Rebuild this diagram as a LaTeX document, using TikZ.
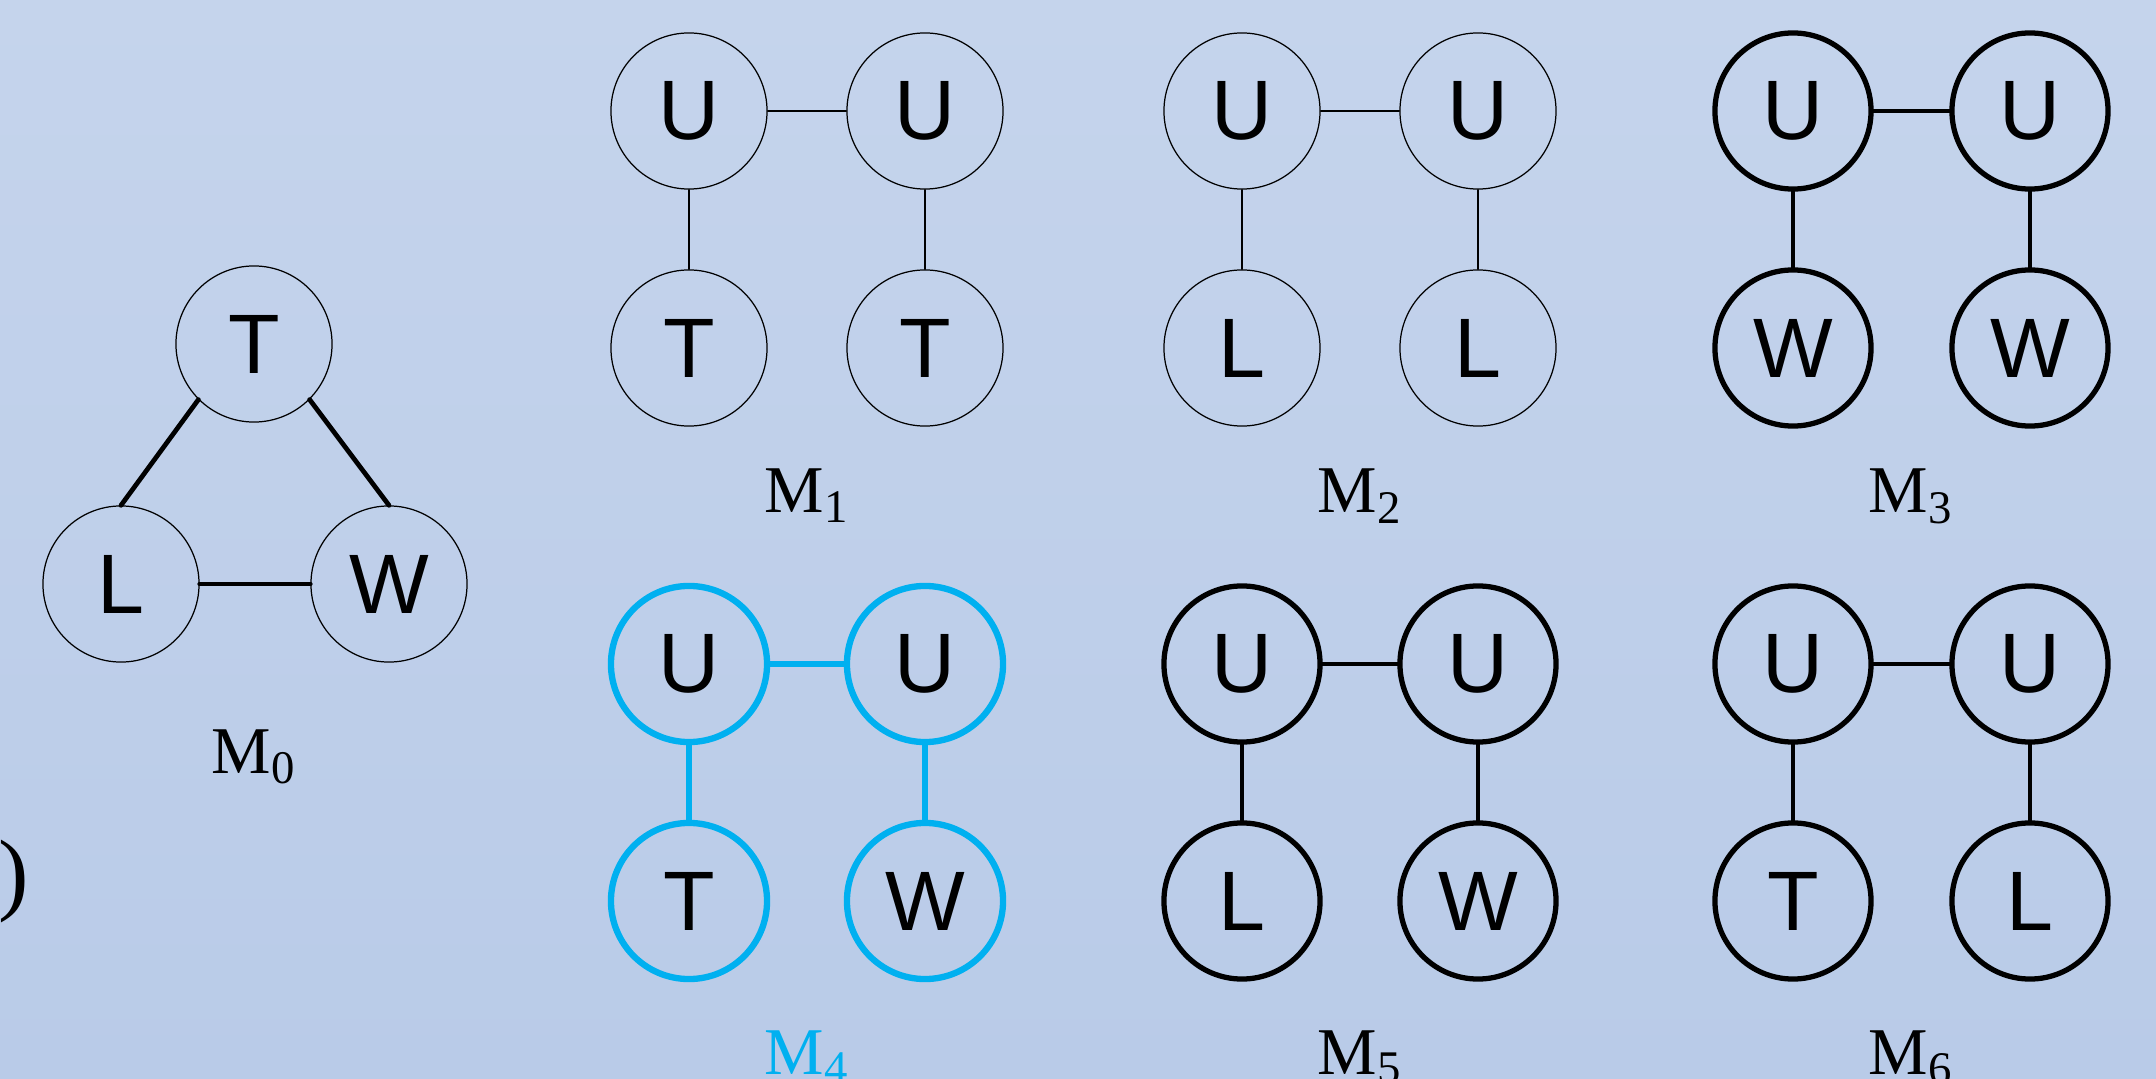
\documentclass[tikz,border=0pt]{standalone}
\usepackage{fontspec}
\setmainfont{Liberation Serif}
\newfontfamily\letrafont{Liberation Sans}
\definecolor{celeste}{RGB}{0,176,240}
\definecolor{fondoarriba}{RGB}{197,212,236}
\definecolor{fondoabajo}{RGB}{185,203,232}

\begin{document}
\begin{tikzpicture}[x=0.01cm, y=-0.01cm, line cap=round,
  nodo/.style={circle, draw, inner sep=0pt, minimum size=1.56cm,
    font=\letrafont\fontsize{24}{24}\selectfont},
  fino/.style={line width=0.35pt},
  grueso/.style={line width=1.5pt},
  arista/.style={line width=1.35pt},
  azul/.style={draw=celeste, line width=1.8pt},
  etiqueta/.style={anchor=base, font=\fontsize{19}{19}\selectfont}]
  % Fondo
  \useasboundingbox (0,0) rectangle (2156,1079);
  \shade[top color=fondoarriba, bottom color=fondoabajo] (0,0) rectangle (2156,1079);

  % Parentesis cortado a la izquierda
  \node[font=\fontsize{26}{26}\selectfont] (par) at (14,882) {)};

  % M0: triangulo T-L-W
  \node[nodo, fino] (t0) at (254,344) {T};
  \node[nodo, fino] (l0) at (121,584) {L};
  \node[nodo, fino] (w0) at (389,584) {W};
  \draw[arista] (t0.south west) -- (l0.north);
  \draw[arista] (t0.south east) -- (w0.north);
  \draw[arista] (l0.east) -- (w0.west);
  \node[etiqueta] (e0) at (254,773) {M\textsubscript{0}};

  % M1
  \node[nodo, fino] (a1) at (689,111) {U};
  \node[nodo, fino] (b1) at (925,111) {U};
  \node[nodo, fino] (c1) at (689,348) {T};
  \node[nodo, fino] (d1) at (925,348) {T};
  \draw[fino] (a1.east) -- (b1.west);
  \draw[fino] (a1.south) -- (c1.north);
  \draw[fino] (b1.south) -- (d1.north);
  \node[etiqueta] (e1) at (807,513) {M\textsubscript{1}};

  % M2
  \node[nodo, fino] (a2) at (1242,111) {U};
  \node[nodo, fino] (b2) at (1478,111) {U};
  \node[nodo, fino] (c2) at (1242,348) {L};
  \node[nodo, fino] (d2) at (1478,348) {L};
  \draw[fino] (a2.east) -- (b2.west);
  \draw[fino] (a2.south) -- (c2.north);
  \draw[fino] (b2.south) -- (d2.north);
  \node[etiqueta] (e2) at (1360,513) {M\textsubscript{2}};

  % M3
  \node[nodo, grueso] (a3) at (1793,111) {U};
  \node[nodo, grueso] (b3) at (2030,111) {U};
  \node[nodo, grueso] (c3) at (1793,348) {W};
  \node[nodo, grueso] (d3) at (2030,348) {W};
  \draw[arista] (a3.east) -- (b3.west);
  \draw[arista] (a3.south) -- (c3.north);
  \draw[arista] (b3.south) -- (d3.north);
  \node[etiqueta] (e3) at (1911,513) {M\textsubscript{3}};

  % M4 (resaltado en celeste)
  \node[nodo, azul] (a4) at (689,664) {U};
  \node[nodo, azul] (b4) at (925,664) {U};
  \node[nodo, azul] (c4) at (689,901) {T};
  \node[nodo, azul] (d4) at (925,901) {W};
  \draw[celeste, line width=1.7pt] (a4.east) -- (b4.west);
  \draw[celeste, line width=1.7pt] (a4.south) -- (c4.north);
  \draw[celeste, line width=1.7pt] (b4.south) -- (d4.north);
  \node[etiqueta, text=celeste] (e4) at (807,1074) {M\textsubscript{4}};

  % M5
  \node[nodo, grueso] (a5) at (1242,664) {U};
  \node[nodo, grueso] (b5) at (1478,664) {U};
  \node[nodo, grueso] (c5) at (1242,901) {L};
  \node[nodo, grueso] (d5) at (1478,901) {W};
  \draw[arista] (a5.east) -- (b5.west);
  \draw[arista] (a5.south) -- (c5.north);
  \draw[arista] (b5.south) -- (d5.north);
  \node[etiqueta] (e5) at (1360,1074) {M\textsubscript{5}};

  % M6
  \node[nodo, grueso] (a6) at (1793,664) {U};
  \node[nodo, grueso] (b6) at (2030,664) {U};
  \node[nodo, grueso] (c6) at (1793,901) {T};
  \node[nodo, grueso] (d6) at (2030,901) {L};
  \draw[arista] (a6.east) -- (b6.west);
  \draw[arista] (a6.south) -- (c6.north);
  \draw[arista] (b6.south) -- (d6.north);
  \node[etiqueta] (e6) at (1911,1074) {M\textsubscript{6}};
\end{tikzpicture}
\end{document}
